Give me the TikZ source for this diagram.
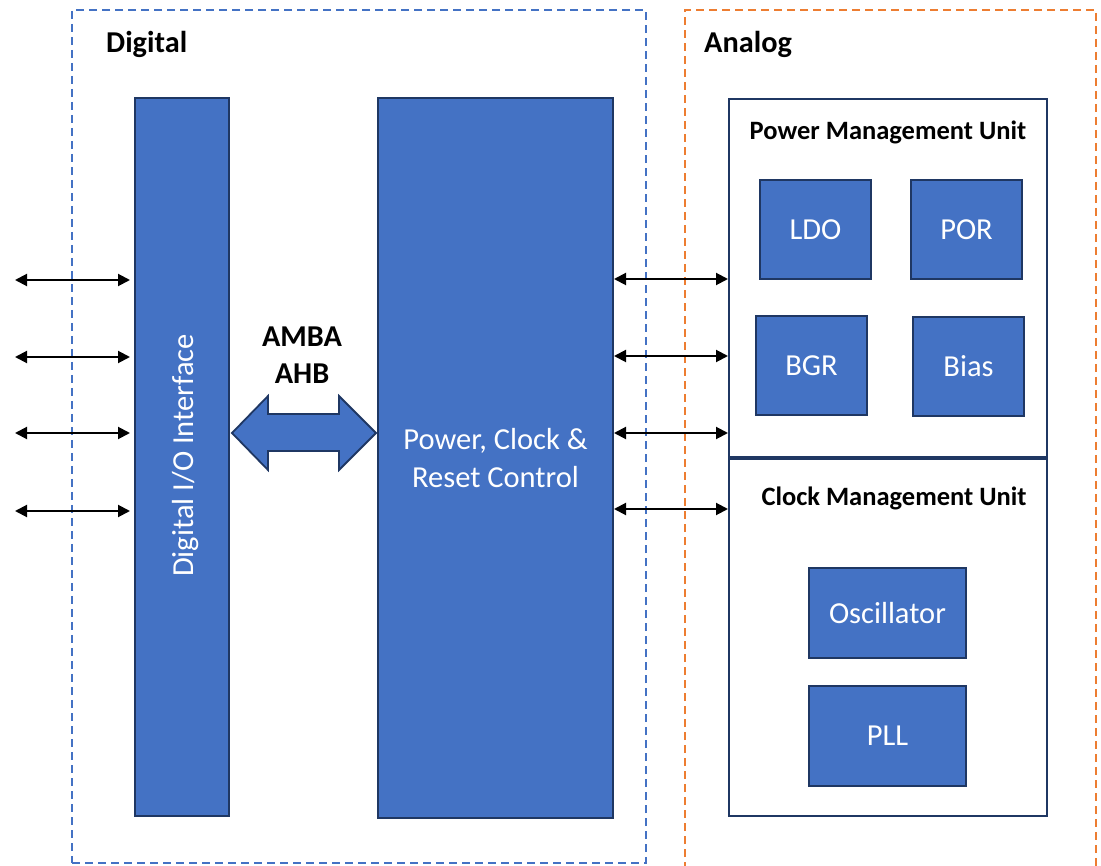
\documentclass[tikz,border=0pt]{standalone}
\usepackage{fontspec}
\setmainfont{Carlito}
\usetikzlibrary{arrows.meta,calc}
\definecolor{blk}{HTML}{4472C4}
\definecolor{edgec}{HTML}{1F3763}
\definecolor{orng}{HTML}{ED7D31}
\begin{document}
\begin{tikzpicture}[x=1pt,y=-1pt,
  blockbox/.style={draw=edgec,line width=2pt,fill=blk,text=white,inner sep=0pt,outer sep=0pt,
    font=\fontsize{30.5}{38}\selectfont},
  unitbox/.style={draw=edgec,line width=2.2pt,fill=white,inner sep=0pt,outer sep=0pt},
  bigtitle/.style={font=\fontsize{30.3}{37}\selectfont\bfseries,inner sep=0pt},
  unittitle/.style={font=\fontsize{26.5}{30}\selectfont\bfseries,inner sep=0pt},
  bluedash/.style={draw=blk,line width=1.8pt,dash pattern=on 8pt off 5pt},
  orangedash/.style={draw=orng,line width=1.8pt,dash pattern=on 8pt off 5pt},
  sigarrow/.style={draw=black,line width=2pt,{Triangle[length=12pt,width=12pt]}-{Triangle[length=12pt,width=12pt]}}
]
\useasboundingbox (0,0) rectangle (1101,866);

% containers
\node[bluedash,minimum width=574pt,minimum height=853pt,inner sep=0pt,outer sep=0pt] (dig) at (359,436.5) {};
\draw[orangedash] (685,870) -- (685,10) -- (1096,10) -- (1096,870);
\node[bigtitle,anchor=base west] (digt) at (106,53) {Digital};
\node[bigtitle,anchor=base west] (anat) at (704,53) {Analog};

% digital blocks
\node[blockbox,minimum width=94pt,minimum height=718pt] (io) at (182,457) {};
\node[text=white,font=\fontsize{30.5}{36}\selectfont,inner sep=0pt,rotate=90,anchor=base] (iot) at (193,455.5) {Digital I/O Interface};
\node[blockbox,minimum width=235pt,minimum height=720pt,align=center] (pcr) at (495.5,458) {Power, Clock \&\\Reset Control};

% AMBA AHB bus
\node[bigtitle,align=center] (amba) at (302,355) {AMBA\\AHB};
\coordinate (ahbL) at (232,433);
\coordinate (ahbR) at (376,433);
\draw[draw=edgec,line width=1.8pt,fill=blk,line join=miter]
  (ahbL) -- (268,396) -- (268,414) -- (339,414) -- (339,396) -- (ahbR)
  -- (339,470) -- (339,451) -- (268,451) -- (268,470) -- cycle;

% analog units
\node[unitbox,minimum width=318pt,minimum height=358pt] (pmu) at (888,278) {};
\node[unitbox,minimum width=318pt,minimum height=357pt] (cmu) at (888,637.5) {};
\node[unittitle,anchor=base] (pmut) at (888,140) {Power Management Unit};
\node[unittitle,anchor=base] (cmut) at (894,506) {Clock Management Unit};

\node[blockbox,minimum width=111pt,minimum height=99pt] (ldo) at (815.5,229.5) {LDO};
\node[blockbox,minimum width=111pt,minimum height=99pt] (por) at (966.5,229.5) {POR};
\node[blockbox,minimum width=111pt,minimum height=99pt] (bgr) at (811.5,365.5) {BGR};
\node[blockbox,minimum width=111pt,minimum height=99pt] (bias) at (968.5,366.5) {Bias};
\node[blockbox,minimum width=157pt,minimum height=90pt] (osc) at (887.5,613) {Oscillator};
\node[blockbox,minimum width=157pt,minimum height=100pt] (pll) at (887.5,736) {PLL};

% external I/O arrows
\coordinate (l1) at (15,280);
\coordinate (l2) at (15,357);
\coordinate (l3) at (15,433);
\coordinate (l4) at (15,511);
\foreach \c in {l1,l2,l3,l4}{
  \draw[sigarrow,shorten >=5pt] (\c) -- (\c -| io.west);
}

% PCR to analog arrows
\coordinate (r1) at (0,279);
\coordinate (r2) at (0,356);
\coordinate (r3) at (0,433);
\coordinate (r4) at (0,509);
\draw[sigarrow,shorten <=1pt,shorten >=1pt] (r1 -| pcr.east) -- (r1 -| pmu.west);
\draw[sigarrow,shorten <=1pt,shorten >=1pt] (r2 -| pcr.east) -- (r2 -| pmu.west);
\draw[sigarrow,shorten <=1pt,shorten >=1pt] (r3 -| pcr.east) -- (r3 -| pmu.west);
\draw[sigarrow,shorten <=1pt,shorten >=1pt] (r4 -| pcr.east) -- (r4 -| cmu.west);
\end{tikzpicture}
\end{document}
